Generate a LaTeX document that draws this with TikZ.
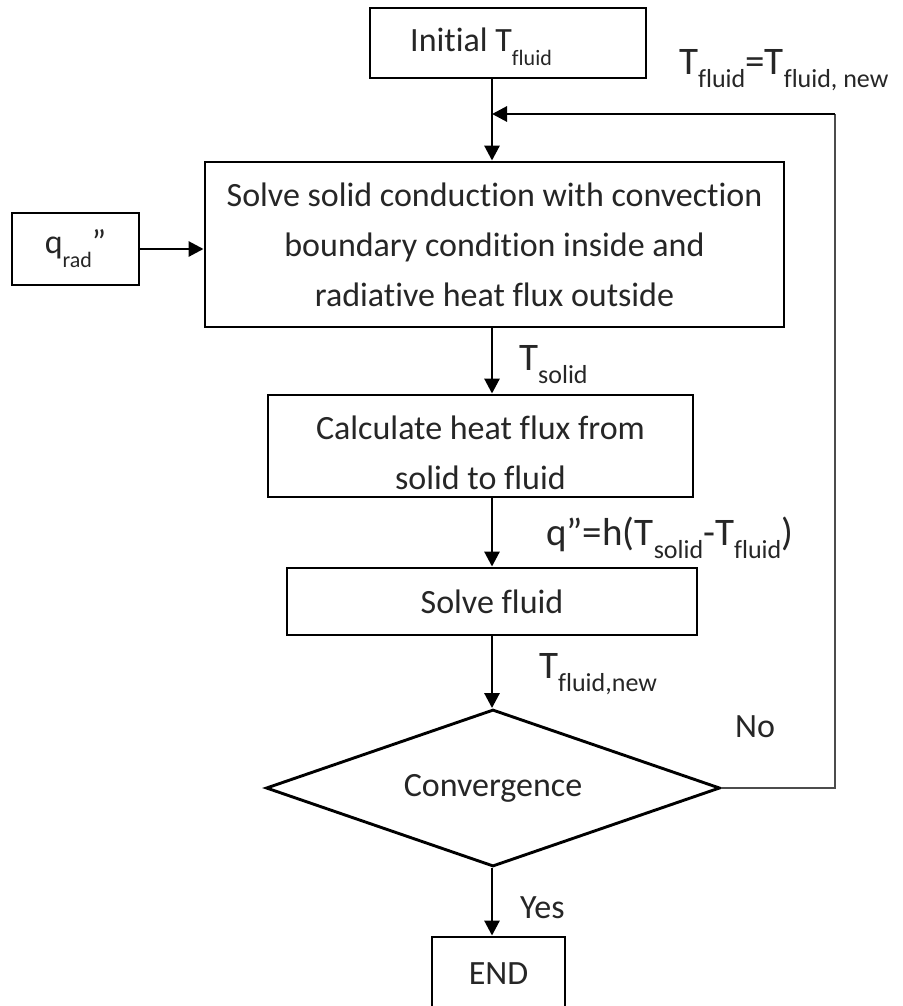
\documentclass[tikz,border=0pt]{standalone}
\usepackage{fontspec}
\setmainfont{Carlito}[Ligatures={NoCommon,NoRequired,NoContextual}]
\usetikzlibrary{arrows.meta,shapes.geometric}
\newcommand\subA[1]{\raisebox{-14pt}{\fontsize{22}{22}\selectfont #1}}
\newcommand\subB[1]{\raisebox{-13pt}{\fontsize{26}{26}\selectfont #1}}
\begin{document}
\begin{tikzpicture}[x=1pt,y=-1pt,
  box/.style={draw, line width=2.9pt, inner sep=0pt, font=\fontsize{34}{50}\selectfont, text=black!85, align=center},
  txt/.style={inner sep=0pt, anchor=base west, font=\fontsize{34}{50}\selectfont, text=black!85},
  lbl/.style={inner sep=0pt, anchor=base west, font=\fontsize{39}{39}\selectfont, text=black!85},
  arr/.style={line width=2.9pt, -{Triangle[width=15pt,length=15pt]}},
  fbline/.style={line width=2.2pt, draw=black!70}
]
\fill[white] (0,0) rectangle (902,1006);
\useasboundingbox (0,0) rectangle (902,1006);
\coordinate (spine) at (492,0);

\node[box, minimum width=276pt, minimum height=70pt] (init) at (508,43) {};
\node[txt] (initT) at (410,52) {Initial T\subA{fluid}};

\node[box, minimum width=579pt, minimum height=165pt] (solid) at (494.5,244.5)
  {Solve solid conduction with convection\\boundary condition inside and\\radiative heat flux outside};
\node[box, minimum width=127pt, minimum height=72pt] (qrad) at (75.5,249) {q\subA{rad}”};

\node[box, minimum width=425pt, minimum height=102pt] (calc) at (480.5,446)
  {\rule{0pt}{37pt}Calculate heat flux from\\solid to fluid};
\node[box, minimum width=410pt, minimum height=67pt] (fluid) at (492,601.5) {Solve fluid};
\node[box, diamond, aspect=2.9, minimum width=454pt, minimum height=157pt] (conv) at (493,788) {Convergence};
\node[box, minimum width=133pt, minimum height=73pt] (end) at (498.5,973.5) {END};

\node[lbl] (lsolid) at (519,370) {T\subB{solid}};
\node[lbl] (lflux) at (546,545) {q”=h(T\subB{solid}-T\subB{fluid})};
\node[lbl] (lnew) at (539,678) {T\subB{fluid,new}};
\node[lbl] (lupd) at (679,75) {T\subB{fluid}=T\subB{fluid, new}};
\node[txt] (lno) at (735,737) {No};
\node[txt] (lyes) at (520,918) {Yes};

\coordinate (fbA) at (835,788);
\coordinate (fbB) at (835,114);

\draw[arr] (init.south -| spine) -- (solid.north -| spine);
\draw[arr] (qrad.east) -- (qrad.east -| solid.west);
\draw[arr] (solid.south -| spine) -- (calc.north -| spine);
\draw[arr] (calc.south -| spine) -- (fluid.north -| spine);
\draw[arr] (fluid.south -| spine) -- (conv.north -| spine);
\draw[arr] (conv.south -| spine) -- (end.north -| spine);
\draw[fbline] (conv.east) -- (fbA) -- (fbB);
\draw[arr] (fbB) -- (fbB -| spine);
\end{tikzpicture}
\end{document}
